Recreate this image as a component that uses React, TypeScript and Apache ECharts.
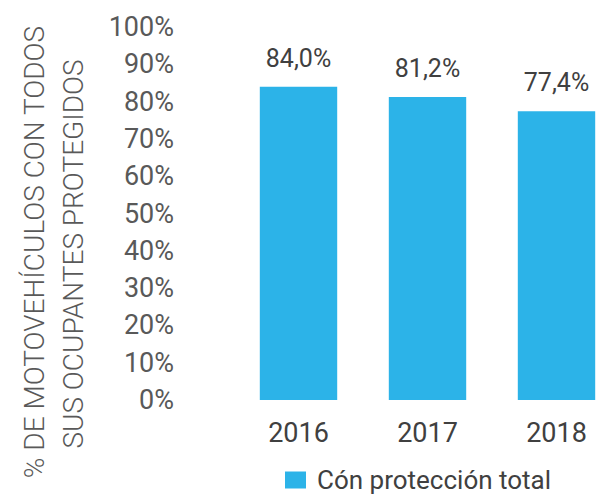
import React, { useEffect, useRef } from "react";
import * as echarts from "echarts";

const categories = ["2016", "2017", "2018"];
const values = [84.0, 81.2, 77.4];
const seriesName = "Cón protección total";
const yTicks = [0, 10, 20, 30, 40, 50, 60, 70, 80, 90, 100];
const axisNameLines = ["% DE MOTOVEHÍCULOS CON TODOS", "SUS OCUPANTES PROTEGIDOS"];

export default function App() {
  const ref = useRef<HTMLDivElement>(null);
  useEffect(() => {
    if (!ref.current) return;
    const chart = echarts.init(ref.current, undefined, { renderer: "svg" });
    const font = "Roboto, 'Noto Sans', sans-serif";
    chart.setOption({
      animation: false,
      grid: {
        left: 234,
        right: -22,
        top: 27,
        bottom: 94,
        containLabel: false,
        outerBoundsMode: "none",
      },
      xAxis: {
        type: "category",
        data: categories,
        axisLine: { show: false },
        axisTick: { show: false },
        axisLabel: { color: "#404040", fontSize: 27, fontFamily: font, margin: 19 },
      },
      yAxis: {
        type: "value",
        min: yTicks[0],
        max: yTicks[yTicks.length - 1],
        interval: 10,
        axisLine: { show: false },
        axisTick: { show: false },
        splitLine: { show: false },
        axisLabel: {
          color: "#595959",
          fontSize: 27,
          fontFamily: font,
          margin: 60,
          formatter: (v: number) => `${v}%`,
        },
      },
      legend: {
        data: [seriesName],
        left: 280,
        top: 462,
        itemWidth: 21,
        itemHeight: 17,
        icon: "rect",
        textStyle: { color: "#404040", fontSize: 26, fontFamily: font, padding: [0, 0, 0, 6] },
      },
      graphic: axisNameLines.map((line, i) => ({
        type: "text",
        x: i === 0 ? 34 : 73,
        y: i === 0 ? 252 : 254,
        rotation: Math.PI / 2,
        style: {
          text: line,
          fill: "#595959",
          font: `300 28px ${font}`,
          align: "center",
          verticalAlign: "middle",
        },
      })),
      series: [
        {
          name: seriesName,
          type: "bar",
          data: values,
          barWidth: "60%",
          itemStyle: { color: "#2cb3e8" },
          label: {
            show: true,
            position: "top",
            distance: 16,
            color: "#404040",
            fontSize: 25,
            fontFamily: font,
            formatter: (p: any) => `${p.value.toFixed(1).replace(".", ",")}%`,
          },
        },
      ],
    });
    return () => chart.dispose();
  }, []);
  return <div ref={ref} style={{ width: 599, height: 494, position: "absolute", left: 0, top: 0 }} />;
}
